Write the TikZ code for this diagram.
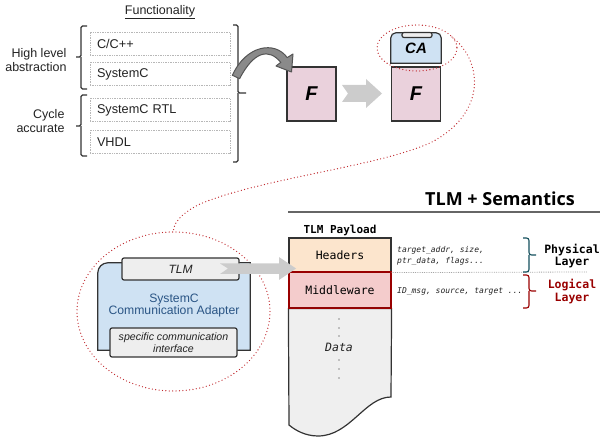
\documentclass[tikz,border=0pt]{standalone}
\usepackage{fontspec}
\setmainfont{Liberation Sans}
\newfontfamily\monof{DejaVu Sans Mono}
\newfontfamily\titlef{Open Sans}
\usetikzlibrary{calc}

\definecolor{edge}{HTML}{333333}
\definecolor{txt}{HTML}{222222}
\definecolor{fpink}{HTML}{EAD1DC}
\definecolor{cablue}{HTML}{CFE2F3}
\definecolor{tabgray}{HTML}{EEEEEE}
\definecolor{arrgray}{HTML}{CCCCCC}
\definecolor{curvegray}{HTML}{8A8A8A}
\definecolor{curveedge}{HTML}{555555}
\definecolor{hdrfill}{HTML}{FCE5CD}
\definecolor{mwfill}{HTML}{F4CCCC}
\definecolor{mwedge}{HTML}{990000}
\definecolor{datafill}{HTML}{EFEFEF}
\definecolor{zoomred}{HTML}{C0282D}
\definecolor{adtext}{HTML}{2A5585}
\definecolor{teal}{HTML}{134F5C}
\definecolor{dotbox}{HTML}{B7B7B7}

\newcommand{\fs}[1]{\fontsize{#1}{#1}\selectfont}

\begin{document}
\begin{tikzpicture}[x=1pt,y=-1pt,
  langbox/.style={draw=dotbox, densely dotted, line width=0.7pt,
    minimum width=140pt, minimum height=23pt, text width=126pt,
    inner xsep=7pt, align=left, font=\fs{12.7}, text=txt},
  sidelabel/.style={align=right, font=\fs{12.5}, text=txt, anchor=east},
  bracket/.style={draw=edge, line width=1.1pt, rounded corners=1.5pt},
  fbox/.style={draw=edge, line width=1.2pt, fill=fpink,
    minimum width=49pt, minimum height=54pt, font=\fs{20}\bfseries\itshape, text=black},
  tabbox/.style={draw=edge, line width=1.2pt, fill=tabgray, rounded corners=2pt},
  blockarrow/.style={fill=arrgray, draw=none},
  zoomline/.style={draw=zoomred, line width=1.3pt, line cap=round,
    dash pattern=on 0pt off 3.4pt},
  payload/.style={draw=edge, line width=1.2pt, minimum width=102pt,
    font=\monof\fs{11.5}, text=black},
  note/.style={anchor=west, font=\monof\itshape\fs{8}, text=txt, inner sep=0pt},
  layer/.style={align=center, font=\monof\bfseries\fs{11.5}}
]
\useasboundingbox (0,0) rectangle (600,438);

% ---------- functionality column ----------
\node[font=\fs{12.5}, text=txt] (func) at (160,12) {\underline{Functionality}};

\node[langbox] (cpp)  at (160,43.5)  {C/C++};
\node[langbox] (sysc) at (160,74)    {SystemC};
\node[langbox] (rtl)  at (160,110)   {SystemC RTL};
\node[langbox] (vhdl) at (160,142)   {VHDL};

\draw[bracket] (87,26) -| (81,57) -- (76,57);
\draw[bracket] (81,57) |- (87,89);
\draw[bracket] (87,95) -| (81,126) -- (76,126);
\draw[bracket] (81,126) |- (87,156);
\draw[bracket] (233,25) -| (238,93) -- (246,93);
\draw[bracket] (238,93) |- (233,162);

\node[sidelabel] (hla) at (70,60) {High level\\[1pt]abstraction};
\node[sidelabel] (cyc) at (68,121) {Cycle\\[1pt]accurate};

% ---------- function blocks ----------
\node[fbox] (f1) at (311.5,94) {F};
\node[fbox] (f2) at (416,94) {F};

% curved arrow from the language stack into the first block
\filldraw[fill=curvegray, draw=curveedge, line width=1pt, line join=round]
  (232.4,75.3) .. controls (246,45) and (275,40.5) .. (287.2,57.6)
  -- (293,54) -- (291.5,72) -- (276,66) -- (280.8,62.4)
  .. controls (269,48) and (254,51) .. (239.6,78.7) -- cycle;

% notched block arrow between the two blocks
\fill[blockarrow] (342,85) -- (366,85) -- (366,79) -- (382,93.5) -- (366,108)
  -- (366,102) -- (342,102) -- (348,93.5) -- cycle;

% communication adapter on top of the second block
\node[minimum width=50pt, minimum height=30pt] (ca) at (416,48) {};
\filldraw[fill=cablue, draw=edge, line width=1.2pt]
  (ca.south west) [rounded corners=5pt] -- (ca.north west) -- (ca.north east)
  [sharp corners] -- (ca.south east) -- cycle;
\node[font=\fs{15}\bfseries\itshape, text=black] at (ca.center) {CA};
\node[tabbox, minimum width=30pt, minimum height=5pt, inner sep=0pt] (catab) at (417,35) {};

\draw[zoomline] (417,48) ellipse [x radius=40, y radius=23];
\node[minimum width=80pt, minimum height=46pt, inner sep=0pt] (zoomsmall) at (417,48) {};

% ---------- enlarged adapter ----------
\node[minimum width=193pt, minimum height=159pt, inner sep=0pt] (zoombig) at (173.5,311.5) {};
\draw[zoomline] (zoombig.center) ellipse [x radius=96.5, y radius=79.5];

\draw[zoomline] (452,37) .. controls (482,60) and (488,112) .. (432,142)
  .. controls (382,166) and (262,178) .. (200,204)
  .. controls (180,214) and (173,224) .. (zoombig.north);

\node[minimum width=152pt, minimum height=87pt, inner sep=0pt] (ad) at (174,306.5) {};
\filldraw[fill=cablue, draw=edge, line width=1.2pt]
  (ad.south west) [rounded corners=10pt] -- (ad.north west)
  [sharp corners] -- (ad.north east) -- (ad.south east) -- cycle;

\node[tabbox, minimum width=117pt, minimum height=22pt, inner sep=0pt,
  font=\fs{12}\itshape, text=txt] (tlm) at (180.5,269) {TLM};

\node[align=center, font=\fs{12.2}, text=adtext] (adlabel) at (174,305.5)
  {SystemC\\[-0.5pt]Communication Adapter};

\node[tabbox, minimum width=127pt, minimum height=29pt, inner sep=0pt,
  align=center, font=\fs{10.6}\itshape, text=txt] (spec) at (173.5,342.5)
  {specific communication\\[1pt]interface};

% ---------- TLM payload ----------
\node[font=\titlef\bfseries\fs{18}, text=black] (title) at (500,199) {TLM + Semantics};
\draw[draw=gray!80!black, line width=1.8pt] (288,212) -- (600,212);

\node[font=\monof\bfseries\fs{11}, text=black] (plabel) at (340,230) {TLM Payload};

\node[payload, fill=hdrfill, minimum height=34pt] (hd) at (340,255) {Headers};
\node[payload, fill=mwfill, draw=mwedge, minimum height=36pt] (mw) at (340,290) {Middleware};

% data area with torn lower edge
\filldraw[fill=datafill, draw=edge, line width=1.2pt]
  (mw.south west) -- (mw.south east) -- (391,397)
  .. controls (365,397) and (350,436) .. (318,436)
  .. controls (305,436) and (295,430) .. (289,425) -- cycle;
\draw[draw=mwedge, line width=1.2pt] (mw.south west) rectangle (mw.north east);

\node[font=\monof\itshape\fs{11.5}, text=txt] (data) at (339,347) {Data};
\foreach \yy in {319,328,336,360,369,378}
  \fill[txt] (339,\yy) circle (0.6);

% arrow from the adapter interface into the payload headers
\fill[blockarrow] (220,263.5) -- (279,263.5) -- (279,257) -- (296,268.5)
  -- (279,280) -- (279,274) -- (220,274) -- (228,268.5) -- cycle;

% field notes
\node[note] (n1) at (397,250.5) {target\_addr, size,};
\node[note] (n2) at (397,261.5) {ptr\_data, flags...};
\node[note] (n3) at (397,292) {ID\_msg, source, target ...};

\draw[draw=gray!70, densely dotted, line width=0.8pt] (hd.south east) -- (587,272);

% layer braces
\draw[draw=teal, line width=1.1pt, rounded corners=2.5pt] (523,238) -| (529,255) -- (536,255);
\draw[draw=teal, line width=1.1pt, rounded corners=2.5pt] (529,255) |- (523,272);
\draw[draw=mwedge, line width=1.1pt, rounded corners=2.5pt] (523,275) -| (529,291) -- (536,291);
\draw[draw=mwedge, line width=1.1pt, rounded corners=2.5pt] (529,291) |- (523,308);

\node[layer, text=black] (phys) at (572,256) {Physical\\[1pt]Layer};
\node[layer, text=mwedge] (logi) at (572,291.5) {Logical\\[1pt]Layer};
\end{tikzpicture}
\end{document}
